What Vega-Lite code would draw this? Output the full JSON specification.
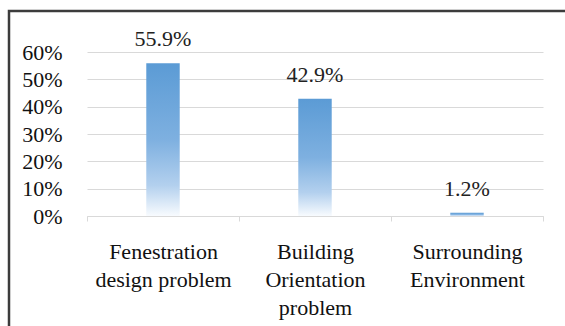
{
  "$schema": "https://vega.github.io/schema/vega-lite/v6.json",
  "width": 612,
  "height": 330,
  "autosize": {"type": "none"},
  "padding": {"left": 9, "top": 11, "right": 0, "bottom": 0},
  "view": {"stroke": "#3c3c3c", "strokeWidth": 2.5},
  "data": {
    "values": [
      {"cause": "Fenestration design problem", "share": 0.559},
      {"cause": "Building Orientation problem", "share": 0.429},
      {"cause": "Surrounding Environment", "share": 0.012}
    ]
  },
  "encoding": {
    "x": {
      "field": "cause",
      "type": "nominal",
      "sort": null,
      "title": null,
      "scale": {"range": [78, 534], "paddingInner": 0, "paddingOuter": 0},
      "axis": {
        "orient": "bottom",
        "offset": -125,
        "domainColor": "#d9d9d9",
        "domainWidth": 1,
        "tickColor": "#d9d9d9",
        "tickSize": 5,
        "tickBand": "extent",
        "grid": false,
        "labelAngle": 0,
        "labelPadding": 20,
        "labelBaseline": "top",
        "labelLineHeight": 28,
        "labelLimit": 0,
        "labelFont": "Liberation Serif",
        "labelFontSize": 22,
        "labelColor": "#111111",
        "labelExpr": "datum.value == 'Fenestration design problem' ? ['Fenestration', 'design problem'] : datum.value == 'Building Orientation problem' ? ['Building', 'Orientation', 'problem'] : datum.value == 'Surrounding Environment' ? ['Surrounding', 'Environment'] : ''"
      }
    },
    "y": {
      "field": "share",
      "type": "quantitative",
      "title": null,
      "scale": {"domain": [0, 0.6], "range": [205, 41], "nice": false, "zero": true},
      "axis": {
        "orient": "left",
        "offset": -53,
        "values": [0, 0.1, 0.2, 0.3, 0.4, 0.5, 0.6],
        "format": ".0%",
        "domain": false,
        "ticks": false,
        "labelPadding": 0,
        "labelFont": "Liberation Serif",
        "labelFontSize": 22,
        "labelColor": "#111111",
        "grid": true,
        "gridColor": "#d9d9d9",
        "gridWidth": 1
      }
    }
  },
  "layer": [
    {
      "mark": {
        "type": "bar",
        "width": {"band": 0.22},
        "color": {
          "gradient": "linear",
          "x1": 0, "y1": 0, "x2": 0, "y2": 1,
          "stops": [
            {"offset": 0, "color": "#5b9bd5"},
            {"offset": 0.5, "color": "#7eb0e0"},
            {"offset": 0.8, "color": "#b3d0ee"},
            {"offset": 1, "color": "#f8fbfe"}
          ]
        }
      }
    },
    {
      "mark": {
        "type": "text",
        "baseline": "middle",
        "dy": -24,
        "fontSize": 22,
        "font": "Liberation Serif",
        "color": "#222222"
      },
      "encoding": {
        "text": {"field": "share", "type": "quantitative", "format": ".1%"}
      }
    }
  ]
}
